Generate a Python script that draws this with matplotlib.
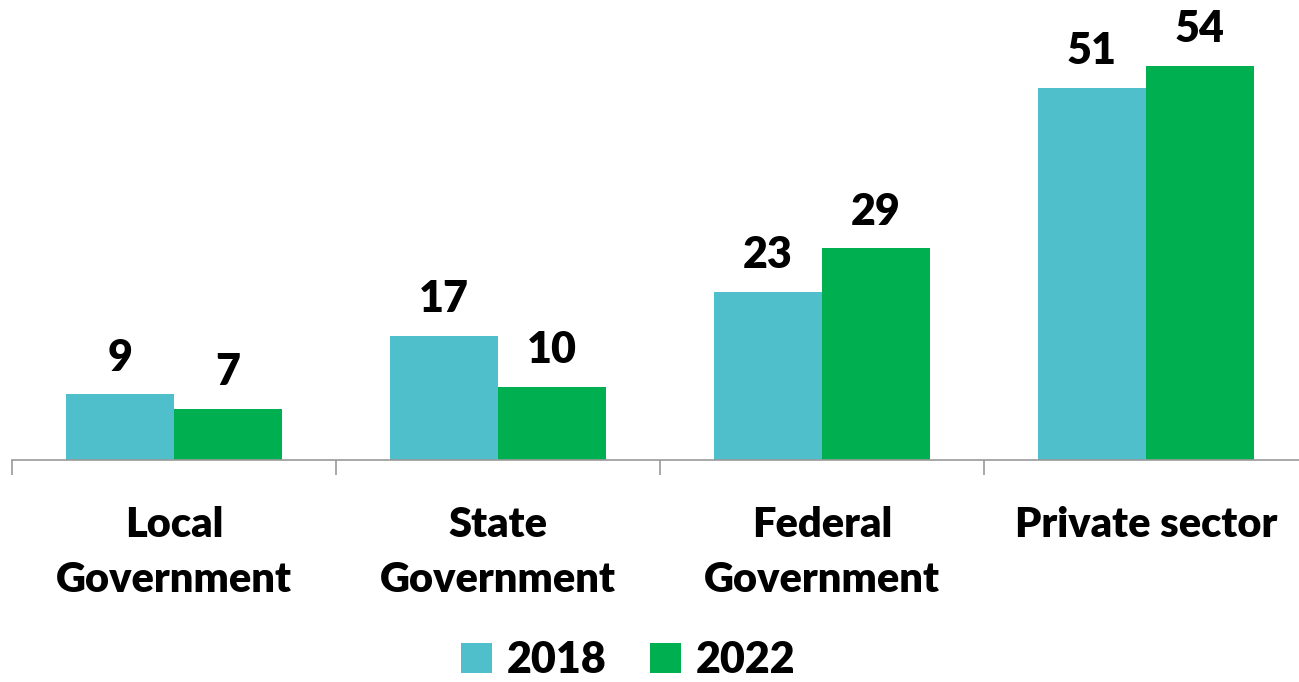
import matplotlib
matplotlib.use("Agg")
import matplotlib.pyplot as plt
import numpy as np

categories = ["Local\nGovernment", "State\nGovernment", "Federal\nGovernment", "Private sector"]
years = ["2018", "2022"]
values_2018 = [9, 17, 23, 51]
values_2022 = [7, 10, 29, 54]

c2018 = "#4FBFCC"
c2022 = "#00B050"

plt.rcParams['font.family'] = ['Lato', 'DejaVu Sans']

fig = plt.figure(figsize=(12.99, 6.82), dpi=100)
ax = fig.add_axes([12/1299, 222/682, 1296/1299, 460/682])

x = np.arange(len(categories))
w = 108/324
b1 = ax.bar(x - w/2, values_2018, w, color=c2018, label=years[0])
b2 = ax.bar(x + w/2, values_2022, w, color=c2022, label=years[1])

for bars in (b1, b2):
    for r in bars:
        ax.annotate(f"{r.get_height():g}", (r.get_x() + r.get_width()/2, r.get_height()),
                    xytext=(0, 12), textcoords="offset points", ha="center", va="bottom",
                    fontsize=31, fontweight="heavy")

ax.set_xlim(-0.5, len(categories) - 0.5)
ax.set_ylim(0, 63)
ax.set_yticks([])
for s in ["top", "right", "left"]:
    ax.spines[s].set_visible(False)
ax.spines["bottom"].set_color("#999999")
ax.spines["bottom"].set_linewidth(1.2)

ax.set_xticks(x)
ax.set_xticklabels(categories, fontsize=30, fontweight="heavy", linespacing=1.55)
ax.tick_params(axis="x", length=0, pad=33)
ax.set_xticks(np.arange(len(categories) + 1) - 0.5, minor=True)
ax.tick_params(axis="x", which="minor", length=11, width=1.2, color="#999999")

fig.legend(handles=[b1, b2], labels=years, loc="center", bbox_to_anchor=(628/1299, 1 - 660/682),
           ncol=2, frameon=False, handlelength=0.72, handleheight=0.72,
           handletextpad=0.35, columnspacing=1.0, prop={"weight": "heavy", "size": 31})

fig.savefig("out.png", dpi=100)
